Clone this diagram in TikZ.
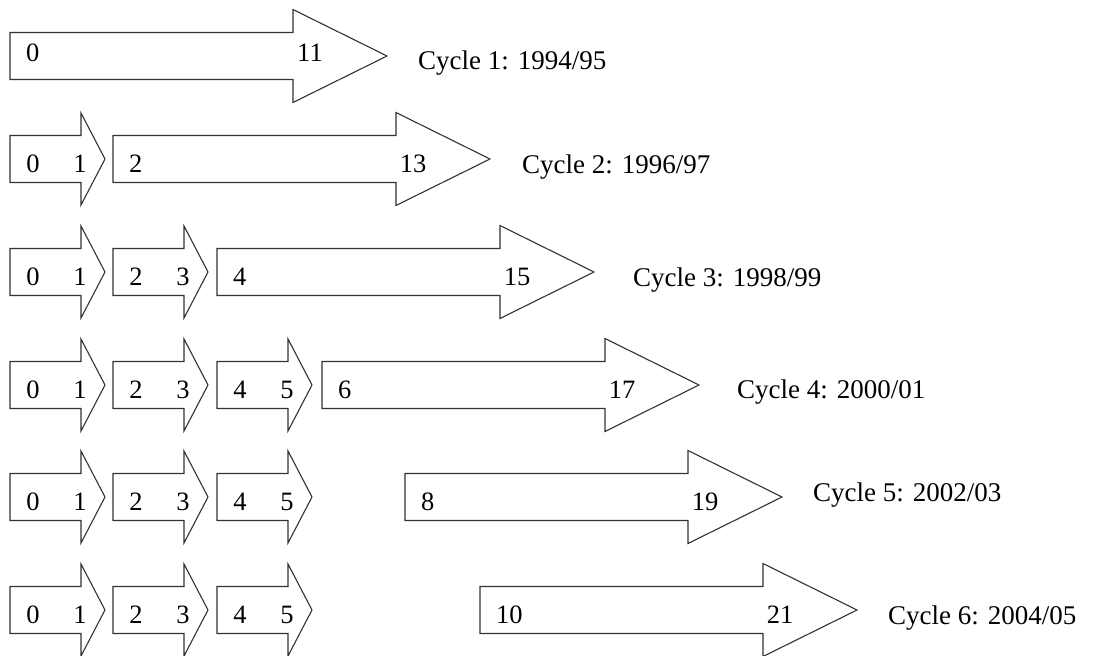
\documentclass[tikz,border=0pt]{standalone}
\usepackage{fontspec}
\setmainfont{Liberation Serif}
\tikzset{
  arr/.style={draw=black!80, line width=1.1pt, fill=white, line join=miter},
  num/.style={font=\fontsize{26.5}{30}\selectfont, inner sep=0pt},
  lbl/.style={font=\fontsize{27}{30}\selectfont, inner sep=0pt, anchor=west},
}
% small arrow: #1 left x, #2 centre y, #3 name, #4 left number, #5 right number
\newcommand{\smallArr}[5]{%
  \draw[arr] (#1,#2-23.5) -- (#1+71,#2-23.5) -- (#1+71,#2-46) -- (#1+95,#2)
     -- (#1+71,#2+46) -- (#1+71,#2+23.5) -- (#1,#2+23.5) -- cycle;
  \node[num] (#3a) at (#1+23,#2+5) {#4};
  \node[num] (#3b) at (#1+70,#2+5) {#5};
}
% big arrow: #1 left x, #2 centre y, #3 name, #4 left number, #5 right number, #6 text offset
\newcommand{\bigArr}[6]{%
  \draw[arr] (#1,#2-23.5) -- (#1+283,#2-23.5) -- (#1+283,#2-46.5) -- (#1+377,#2)
     -- (#1+283,#2+46.5) -- (#1+283,#2+23.5) -- (#1,#2+23.5) -- cycle;
  \node[num, anchor=west] (#3a) at (#1+16,#2+#6) {#4};
  \node[num] (#3b) at (#1+300,#2+#6) {#5};
}
\begin{document}
\begin{tikzpicture}[x=1pt,y=-1pt]
\useasboundingbox (0,0) rectangle (1093,656);
% Row 1
\bigArr{10}{56}{b1}{0}{11}{-3}
\node[lbl] (c1) at (418,63) {Cycle 1: 1994/95};
% Row 2
\smallArr{10}{159}{s21}{0}{1}
\bigArr{113}{159}{b2}{2}{13}{5}
\node[lbl] (c2) at (522,167) {Cycle 2: 1996/97};
% Row 3
\smallArr{10}{272}{s31}{0}{1}
\smallArr{113}{272}{s32}{2}{3}
\bigArr{217}{272}{b3}{4}{15}{5}
\node[lbl] (c3) at (633,280) {Cycle 3: 1998/99};
% Row 4
\smallArr{10}{385}{s41}{0}{1}
\smallArr{113}{385}{s42}{2}{3}
\smallArr{217}{385}{s43}{4}{5}
\bigArr{322}{385}{b4}{6}{17}{5}
\node[lbl] (c4) at (737,392) {Cycle 4: 2000/01};
% Row 5
\smallArr{10}{497}{s51}{0}{1}
\smallArr{113}{497}{s52}{2}{3}
\smallArr{217}{497}{s53}{4}{5}
\bigArr{405}{497}{b5}{8}{19}{5}
\node[lbl] (c5) at (813,495) {Cycle 5: 2002/03};
% Row 6
\smallArr{10}{610}{s61}{0}{1}
\smallArr{113}{610}{s62}{2}{3}
\smallArr{217}{610}{s63}{4}{5}
\bigArr{480}{610}{b6}{10}{21}{5}
\node[lbl] (c6) at (888,618) {Cycle 6: 2004/05};
\end{tikzpicture}
\end{document}
